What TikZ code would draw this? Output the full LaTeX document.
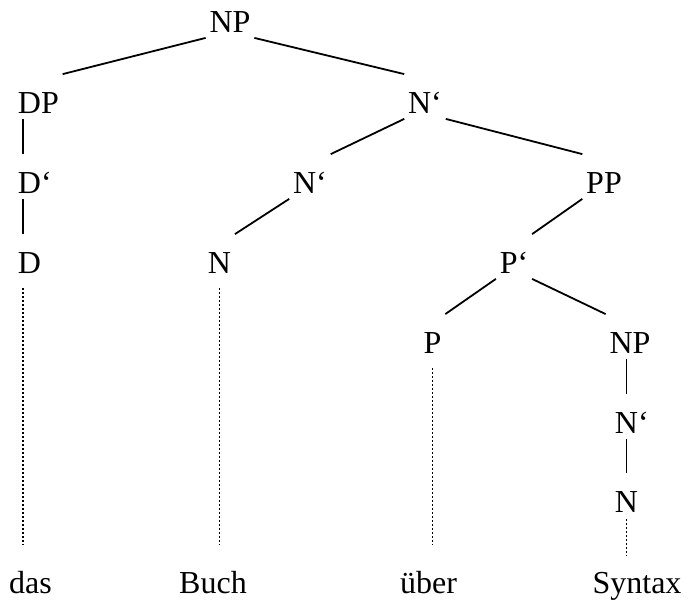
\documentclass[tikz,border=0pt]{standalone}
\usepackage{fontspec}
\setmainfont{Liberation Serif}
\begin{document}
\begin{tikzpicture}[x=1pt,y=1pt,line width=1.8pt]
\tikzstyle{every node}=[anchor=base,inner xsep=3pt,inner ysep=5pt,text height=33pt,text depth=0pt,font=\fontsize{32pt}{38pt}\selectfont]
\tikzstyle{trace}=[line width=1.8pt,dash pattern=on 1.8pt off 2.2pt,shorten <=9pt,shorten >=10pt]
\useasboundingbox (0,0) rectangle (688,-605);
\node (np) at (230,-32) {NP};
\node[anchor=base west] (dp) at (14,-113) {DP};
\node (n1) at (425,-113) {N‘};
\node[anchor=base west] (d1) at (14,-193) {D‘};
\node (n2) at (310,-193) {N‘};
\node (pp) at (604,-193) {PP};
\node[anchor=base west] (d) at (14,-273) {D};
\node (n3) at (219.5,-273) {N};
\node (p1) at (514,-273) {P‘};
\node (p2) at (432.5,-353) {P};
\node (np2) at (630,-353) {NP};
\node (n4) at (626.5,-433) {N\rlap{‘}};
\node (n5) at (626.5,-512) {N};
\node (das) at (30.5,-593) {das};
\node (buch) at (213,-593) {Buch};
\node (ueber) at (428.5,-593) {über};
\node (syntax) at (637,-593) {Syntax};
\draw (np.south west) -- (dp.north east);
\draw (np.south east) -- (n1.north west);
\draw (n1.south west) -- (n2.north east);
\draw (n1.south east) -- (pp.north west);
\draw (n2.south west) -- (n3.north east);
\draw (pp.south west) -- (p1.north east);
\draw (p1.south west) -- (p2.north east);
\draw (p1.south east) -- (np2.north west);
\draw ([xshift=9pt]dp.south west) -- ([xshift=9pt]d1.north west);
\draw ([xshift=9pt]d1.south west) -- ([xshift=9pt]d.north west);
\draw (np2.south -| n4) -- (n4.north);
\draw (n4.south) -- (n5.north);
% dotted lines down to the words
\draw[trace] ([xshift=9pt]d.south west) -- ([xshift=9pt]d.south west |- das.north);
\draw[trace] (n3.south) -- (n3.south |- buch.north);
\draw[trace] (p2.south) -- (p2.south |- ueber.north);
\draw[trace,shorten <=1pt,shorten >=-2pt] (n5.south) -- (n5.south |- syntax.north);
\end{tikzpicture}
\end{document}
